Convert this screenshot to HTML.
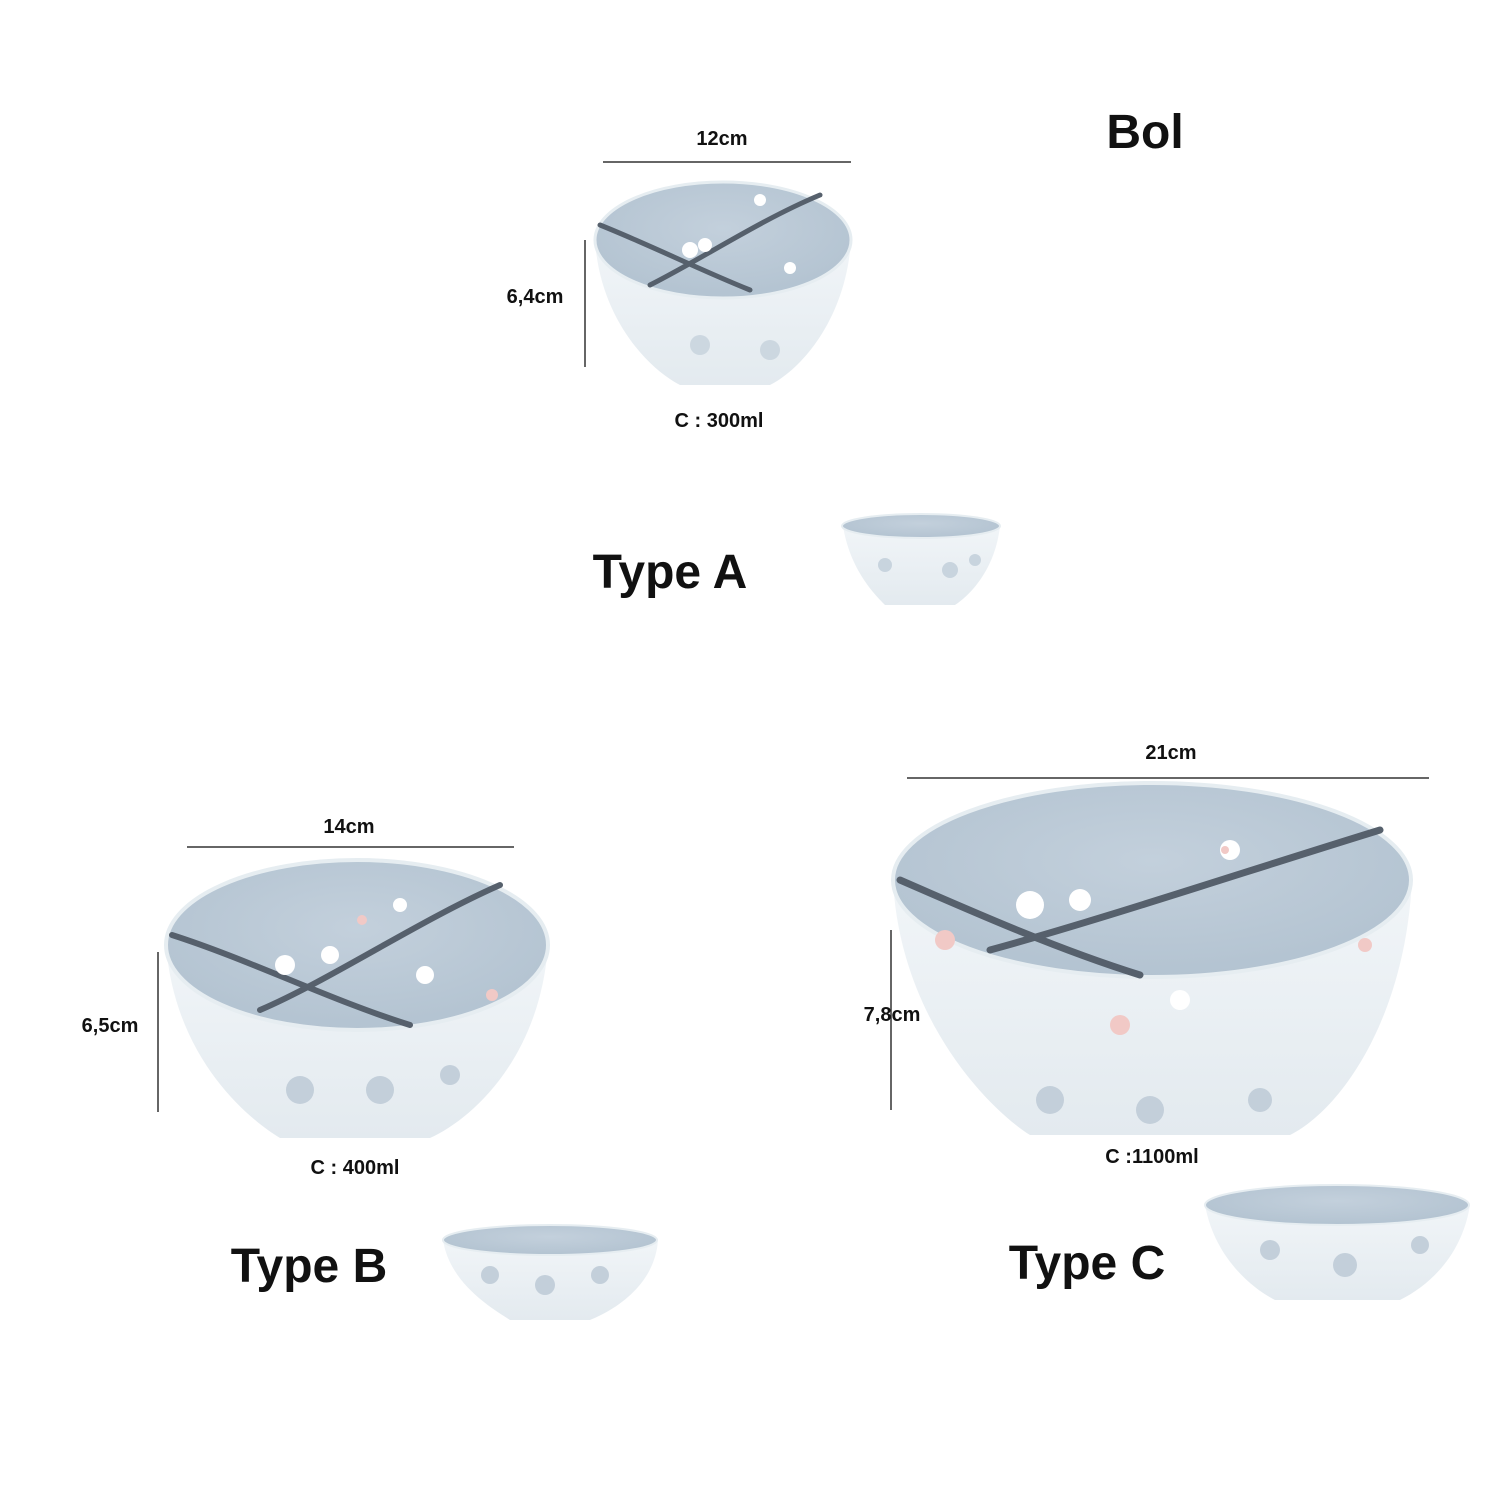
<!DOCTYPE html>
<html><head><meta charset="utf-8"><style>
html,body{margin:0;padding:0;background:#fff}
svg{display:block}
text{font-family:"Liberation Sans",Arial,sans-serif;font-weight:bold;fill:#111}
</style></head><body>
<svg width="1500" height="1500" viewBox="0 0 1500 1500" xmlns="http://www.w3.org/2000/svg">
<defs>
<linearGradient id="body" x1="0" y1="0" x2="0" y2="1">
<stop offset="0" stop-color="#f1f5f8"/><stop offset="1" stop-color="#e3eaef"/></linearGradient>
<radialGradient id="inner" cx="0.5" cy="0.4" r="0.6">
<stop offset="0" stop-color="#c3d0dc"/><stop offset="1" stop-color="#b3c3d1"/></radialGradient>
</defs>

<g stroke="#333" stroke-width="1.5">
<line x1="603" y1="162" x2="851" y2="162"/>
<line x1="585" y1="240" x2="585" y2="367"/>
<line x1="187" y1="847" x2="514" y2="847"/>
<line x1="158" y1="952" x2="158" y2="1112"/>
<line x1="907" y1="778" x2="1429" y2="778"/>
<line x1="891" y1="930" x2="891" y2="1110"/>
</g>

<!-- Bowl A big -->
<path d="M595 240 C600 320 650 370 680 385 L770 385 C800 370 846 320 851 240 Z" fill="url(#body)"/>
<ellipse cx="723" cy="240" rx="128" ry="58" fill="url(#inner)" stroke="#e6edf1" stroke-width="3"/>
<g stroke="#56606c" stroke-width="5" fill="none" stroke-linecap="round">
<path d="M600 225 C650 245 700 270 750 290"/><path d="M650 285 C700 260 760 220 820 195"/></g>
<g fill="#fff"><circle cx="690" cy="250" r="8"/><circle cx="705" cy="245" r="7"/><circle cx="790" cy="268" r="6"/><circle cx="760" cy="200" r="6"/></g>
<g fill="#ccd7e0"><circle cx="700" cy="345" r="10"/><circle cx="770" cy="350" r="10"/></g>

<!-- Bowl A small -->
<path d="M843 526 C850 570 875 595 885 605 L955 605 C970 595 995 570 1000 526 Z" fill="url(#body)"/>
<ellipse cx="921" cy="526" rx="79" ry="12" fill="url(#inner)" stroke="#e6edf1" stroke-width="2"/>
<g fill="#c8d4de"><circle cx="885" cy="565" r="7"/><circle cx="950" cy="570" r="8"/><circle cx="975" cy="560" r="6"/></g>

<!-- Bowl B big -->
<path d="M166 945 C175 1060 250 1120 280 1138 L430 1138 C470 1120 540 1060 548 945 Z" fill="url(#body)"/>
<ellipse cx="357" cy="945" rx="191" ry="85" fill="url(#inner)" stroke="#e6edf1" stroke-width="4"/>
<g stroke="#56606c" stroke-width="6" fill="none" stroke-linecap="round">
<path d="M172 935 C250 960 330 1000 410 1025"/><path d="M260 1010 C330 980 420 920 500 885"/></g>
<g fill="#fff"><circle cx="285" cy="965" r="10"/><circle cx="330" cy="955" r="9"/><circle cx="425" cy="975" r="9"/><circle cx="400" cy="905" r="7"/></g>
<g fill="#f1c9c6"><circle cx="362" cy="920" r="5"/><circle cx="492" cy="995" r="6"/></g>
<g fill="#c3cfda"><circle cx="300" cy="1090" r="14"/><circle cx="380" cy="1090" r="14"/><circle cx="450" cy="1075" r="10"/></g>

<!-- Bowl B small -->
<path d="M443 1240 C450 1285 495 1310 510 1320 L590 1320 C615 1310 655 1285 658 1240 Z" fill="url(#body)"/>
<ellipse cx="550" cy="1240" rx="107" ry="15" fill="url(#inner)" stroke="#e6edf1" stroke-width="2"/>
<g fill="#c3cfda"><circle cx="490" cy="1275" r="9"/><circle cx="545" cy="1285" r="10"/><circle cx="600" cy="1275" r="9"/></g>

<!-- Bowl C big -->
<path d="M893 880 C900 1020 990 1110 1030 1135 L1290 1135 C1340 1110 1405 1020 1412 880 Z" fill="url(#body)"/>
<ellipse cx="1152" cy="880" rx="259" ry="97" fill="url(#inner)" stroke="#e6edf1" stroke-width="4"/>
<g stroke="#56606c" stroke-width="7" fill="none" stroke-linecap="round">
<path d="M900 880 C980 915 1060 950 1140 975"/><path d="M990 950 C1100 920 1250 870 1380 830"/></g>
<g fill="#fff"><circle cx="1030" cy="905" r="14"/><circle cx="1080" cy="900" r="11"/><circle cx="1230" cy="850" r="10"/><circle cx="1180" cy="1000" r="10"/></g>
<g fill="#f1c9c6"><circle cx="945" cy="940" r="10"/><circle cx="1120" cy="1025" r="10"/><circle cx="1365" cy="945" r="7"/><circle cx="1225" cy="850" r="4"/></g>
<g fill="#c3cfda"><circle cx="1050" cy="1100" r="14"/><circle cx="1150" cy="1110" r="14"/><circle cx="1260" cy="1100" r="12"/></g>

<!-- Bowl C small -->
<path d="M1205 1205 C1215 1260 1255 1290 1275 1300 L1400 1300 C1430 1285 1462 1255 1470 1205 Z" fill="url(#body)"/>
<ellipse cx="1337" cy="1205" rx="132" ry="20" fill="url(#inner)" stroke="#e6edf1" stroke-width="2"/>
<g fill="#c3cfda"><circle cx="1270" cy="1250" r="10"/><circle cx="1345" cy="1265" r="12"/><circle cx="1420" cy="1245" r="9"/></g>

<g font-size="20" text-anchor="middle">
<text x="722" y="145">12cm</text>
<text x="535" y="303">6,4cm</text>
<text x="719" y="427">C : 300ml</text>
<text x="349" y="833">14cm</text>
<text x="110" y="1032">6,5cm</text>
<text x="355" y="1174">C : 400ml</text>
<text x="1171" y="759">21cm</text>
<text x="892" y="1021">7,8cm</text>
<text x="1152" y="1163">C :1100ml</text>
</g>
<g font-size="48" text-anchor="middle">
<text x="1145" y="148">Bol</text>
<text x="670" y="588">Type A</text>
<text x="309" y="1282">Type B</text>
<text x="1087" y="1279">Type C</text>
</g>
</svg>
</body></html>
